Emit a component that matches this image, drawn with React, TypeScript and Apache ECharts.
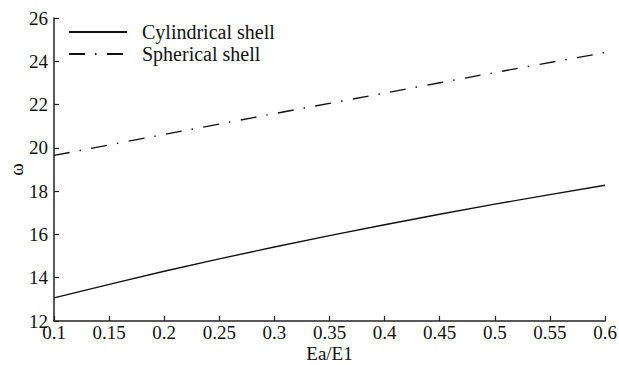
import React, { useEffect, useRef } from "react";
import * as echarts from "echarts";

const xValues = [0.1, 0.2, 0.3, 0.4, 0.5, 0.6];
const cylindrical = [13.07, 14.3, 15.42, 16.45, 17.4, 18.27];
const spherical = [19.65, 20.62, 21.58, 22.53, 23.48, 24.4];
const seriesNames = ["Cylindrical shell", "Spherical shell"];

const FONT = "Liberation Serif, Times New Roman, serif";

export default function App() {
  const ref = useRef<HTMLDivElement>(null);
  useEffect(() => {
    if (!ref.current) return;
    const chart = echarts.init(ref.current, null, { renderer: "svg" });
    const axisLine = { lineStyle: { color: "#222", width: 1.5 } };
    chart.setOption({
      animation: false,
      backgroundColor: "#fff",
      textStyle: { fontFamily: FONT },
      grid: {
        left: 54,
        right: 14,
        top: 18,
        bottom: 44,
        containLabel: false,
        outerBoundsMode: "none",
      },
      legend: {
        orient: "vertical",
        left: 68,
        top: 22,
        padding: 0,
        itemWidth: 58,
        itemHeight: 10,
        itemGap: 2,
        itemStyle: { color: "transparent", borderColor: "transparent", borderWidth: 0, opacity: 0 },
        textStyle: { fontFamily: FONT, fontSize: 20, color: "#111", padding: [0, 0, 0, 10] },
        data: seriesNames,
      },
      xAxis: {
        type: "value",
        min: 0.1,
        max: 0.6,
        interval: 0.05,
        name: "Ea/E1",
        nameLocation: "middle",
        nameGap: 23,
        nameMoveOverlap: false,
        nameTextStyle: { fontFamily: FONT, fontSize: 19, color: "#111" },
        axisLine,
        axisTick: { inside: true, length: 5, lineStyle: { color: "#222", width: 1.2 } },
        axisLabel: {
          fontFamily: FONT,
          fontSize: 19,
          color: "#111",
          margin: 2,
          formatter: (v: number) => String(Math.round(v * 100) / 100),
        },
        splitLine: { show: false },
      },
      yAxis: {
        type: "value",
        min: 12,
        max: 26,
        interval: 2,
        name: "ω",
        nameLocation: "middle",
        nameGap: 28,
        nameMoveOverlap: false,
        nameTextStyle: { fontFamily: FONT, fontSize: 19, color: "#111" },
        axisLine: { show: true, ...axisLine },
        axisTick: { show: true, inside: true, length: 5, lineStyle: { color: "#222", width: 1.2 } },
        axisLabel: { fontFamily: FONT, fontSize: 19, color: "#111", margin: 6 },
        splitLine: { show: false },
      },
      series: [
        {
          name: seriesNames[0],
          type: "line",
          smooth: 0.3,
          symbol: "none",
          data: xValues.map((x, i) => [x, cylindrical[i]]),
          lineStyle: { color: "#111", width: 1.4, type: "solid" },
          itemStyle: { color: "#111" },
        },
        {
          name: seriesNames[1],
          type: "line",
          smooth: 0.3,
          symbol: "none",
          data: xValues.map((x, i) => [x, spherical[i]]),
          lineStyle: { color: "#111", width: 1.4, type: [16, 10, 1.5, 10.5] },
          itemStyle: { color: "#111" },
        },
      ],
    });
    return () => chart.dispose();
  }, []);
  return (
    <div
      ref={ref}
      style={{ position: "absolute", left: 0, top: 0, width: 619, height: 365 }}
    />
  );
}
